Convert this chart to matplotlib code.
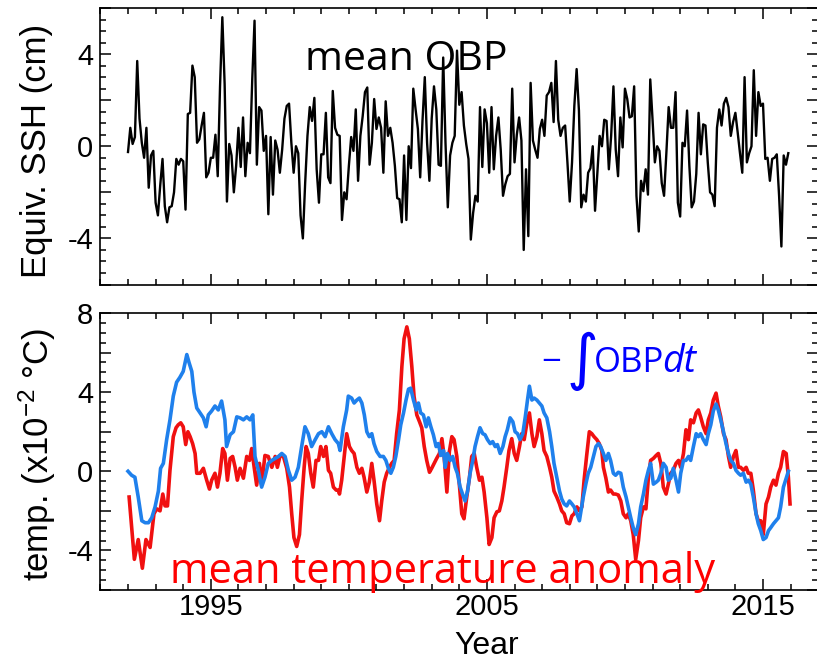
import numpy as np
import matplotlib
matplotlib.use("Agg")
import matplotlib.pyplot as plt
from matplotlib.ticker import MultipleLocator, FixedLocator, FuncFormatter

plt.rcParams['axes.unicode_minus'] = False
plt.rcParams['font.family'] = ['Liberation Sans', 'DejaVu Sans']
plt.rcParams['mathtext.fontset'] = 'custom'
plt.rcParams['mathtext.rm'] = 'Liberation Sans'
plt.rcParams['mathtext.it'] = 'Liberation Sans:italic'
plt.rcParams['mathtext.default'] = 'regular'

# ---------------- data ----------------
start_year = 1992.0
# monthly mean OBP (equivalent SSH, cm), Jan 1992 onward
obp = [
    -0.25, 0.8, 0.1, 0.4, 3.7, 1.2, 0.15, -0.5, 0.8, -1.8,
    -0.4, -0.2, -2.45, -3.0, -1.7, -0.55, -2.6, -3.3, -2.65, -2.6,
    -2.0, -0.55, -0.8, -0.55, -0.65, -2.75, 1.4, 1.45, 3.5, 3.0,
    0.15, 0.3, 0.9, 1.45, -1.35, -1.15, -0.5, -0.5, 0.5, -1.3,
    2.6, 5.6, 2.7, -2.4, 0.1, -0.4, -2.0, -0.85, 0.8, -0.9,
    1.25, -1.3, 0.15, -0.3, 2.9, 5.45, -0.8, 1.7, 1.55, -0.2,
    0.45, -2.95, 0.4, -2.1, 0.25, -0.15, -1.15, -0.15, 1.2, 1.75,
    1.85, 0.15, -1.15, 0.0,
    -0.3, -3.0, -4.0,
    -1.6, 0.45, 1.7, 1.1, 2.1, -1.0, -2.45, -0.35, -0.35, 1.45,
    -1.35, -1.6, 2.4, 0.8, 0.5, 0.45, -3.2, -2.0, -2.3, -0.85,
    0.4, -0.2, 1.6, -1.5, 0.45, 1.3, 2.35, 2.55, -0.8, 0.15,
    2.05, 0.75, 1.25, 0.8, -1.15, 1.95, 0.45, 0.8, 0.15, -0.85,
    -2.25, -2.3, -3.3, -0.4, -3.2, 0.0, -0.95, 2.5, 1.6, 0.75,
    -1.35, 1.1, 3.0, 0.15, -1.5, 1.2, 2.6, 1.6, -0.8, -0.85,
    3.85, 0.15, -2.65, -0.4, 0.15, 0.45, 4.15, 1.8, 2.35, 0.9,
    0.1, -0.55, -4.05, -2.9,
    -2.15, -2.4, 1.7, -0.9, 1.6, 1.0, -1.15, 1.7, -1.0, 0.45,
    1.25, -0.15, -2.15, -1.65, -1.3, -1.2, 2.5, -0.7, 0.5, 1.25,
    0.25, -4.5, -1.0, -3.9, 2.75, 0.25, -0.15, -0.5, 0.75, 1.15,
    0.45, 2.2, 2.35, 2.75, 1.05, 3.7, 1.15, 0.45, 0.8, 0.9,
    -0.7, -2.4, -0.7, 1.75, 3.35, 1.55, -2.65, -2.1, -2.4, -1.15,
    -0.95, 0.0, -2.8, -1.15, 0.45, 0.0, 1.15, 1.1, -1.0, 0.45,
    2.6, -0.15, -1.3, 1.25, -0.05, 2.5, 2.05, 1.25, 1.3, 2.6,
    -2.15, -3.7,
    -1.5, -1.95, -1.0, -2.1, 2.9, 1.15, -0.7, 0.0, -0.2, -1.6,
    -2.15, -0.3, 1.7, 0.8, 0.8, 2.35, -2.45, -3.05, 0.15, 0.0,
    1.55, -0.85, -2.65, -2.4, -1.2, 1.45, -0.35, 0.95, 0.9, -0.7,
    -2.0, -2.1, -2.6, 0.8, 1.6, 0.9, 1.85, 2.1, 1.7, 0.45,
    1.05, 1.45, 0.6, -0.3, -1.15, 3.0, -0.7, -0.3, 0.0, 3.3,
    0.45, 2.35, 1.75, 1.85, -0.55, -0.5, -1.5, -0.55, -0.5, -0.35,
    -2.15, -4.35, -0.4, -0.8, -0.3,
]

# mean temperature anomaly (x1e-2 degC)
temp_t = [
    1992.04, 1992.23, 1992.37, 1992.52, 1992.65, 1992.80, 1992.94, 1993.04, 1993.16, 1993.26,
    1993.34, 1993.43, 1993.52, 1993.64, 1993.74, 1993.82, 1993.91, 1994.00, 1994.09, 1994.17,
    1994.25, 1994.34, 1994.43, 1994.49, 1994.61, 1994.73, 1994.85, 1994.95, 1995.03, 1995.15,
    1995.24, 1995.33, 1995.43, 1995.51, 1995.60, 1995.70, 1995.79, 1995.88, 1995.96, 1996.06,
    1996.18, 1996.30, 1996.40, 1996.48, 1996.57, 1996.66, 1996.76, 1996.84, 1996.96, 1997.08,
    1997.21, 1997.33, 1997.41, 1997.51, 1997.63, 1997.75, 1997.85, 1997.93, 1998.01, 1998.11,
    1998.21, 1998.29, 1998.38, 1998.45, 1998.53, 1998.62, 1998.71, 1998.81, 1998.90, 1998.98,
    1999.08, 1999.17, 1999.26, 1999.34, 1999.44, 1999.54, 1999.62,
    1999.66, 1999.74, 1999.83, 1999.92, 2000.02, 2000.10, 2000.19, 2000.29, 2000.38, 2000.47,
    2000.55, 2000.65, 2000.74, 2000.83, 2000.91, 2001.01, 2001.11, 2001.19, 2001.28, 2001.37,
    2001.47, 2001.55, 2001.64, 2001.73, 2001.83, 2001.92, 2002.00, 2002.10, 2002.19, 2002.28,
    2002.36, 2002.46, 2002.56, 2002.64, 2002.73, 2002.82, 2002.92, 2003.00, 2003.09, 2003.18,
    2003.28, 2003.37, 2003.45, 2003.55, 2003.64, 2003.73, 2003.81, 2003.91, 2004.01, 2004.09,
    2004.17, 2004.27, 2004.37, 2004.45, 2004.54, 2004.63, 2004.73, 2004.82, 2004.90, 2005.00,
    2005.08, 2005.18, 2005.26, 2005.36, 2005.45, 2005.54, 2005.62, 2005.72, 2005.80, 2005.90,
    2005.99, 2006.08, 2006.18, 2006.26, 2006.35, 2006.45, 2006.54, 2006.63, 2006.71, 2006.81,
    2006.90, 2006.99, 2007.07, 2007.17, 2007.27, 2007.35, 2007.43, 2007.53, 2007.63, 2007.71,
    2007.80, 2007.89, 2007.99, 2008.08, 2008.16, 2008.26, 2008.35,
    2008.44, 2008.52, 2008.61, 2008.71, 2008.80, 2008.88, 2008.98, 2009.07, 2009.16, 2009.22,
    2009.31, 2009.40, 2009.48, 2009.58, 2009.66, 2009.76, 2009.85, 2009.94, 2010.04, 2010.12,
    2010.21, 2010.30, 2010.39, 2010.49, 2010.57, 2010.67, 2010.76, 2010.85, 2010.93, 2011.03,
    2011.13, 2011.21, 2011.30, 2011.39, 2011.49, 2011.57, 2011.66, 2011.75, 2011.85, 2011.94,
    2012.02, 2012.12, 2012.21, 2012.30, 2012.38, 2012.48, 2012.58, 2012.66, 2012.74, 2012.84,
    2012.94, 2013.02, 2013.11, 2013.20, 2013.30, 2013.38, 2013.47, 2013.57, 2013.66, 2013.75,
    2013.83, 2013.93, 2014.02, 2014.11, 2014.19, 2014.29, 2014.39, 2014.47, 2014.56, 2014.65,
    2014.75, 2014.83, 2014.92, 2015.01, 2015.11, 2015.20, 2015.28, 2015.38, 2015.47, 2015.56,
    2015.64, 2015.74, 2015.84, 2015.92, 2015.98,
]
temp_v = [
    -1.3, -4.45, -3.45, -4.9, -3.45, -3.85, -2.15, -1.9, -2.0, -1.15,
    -1.75, -1.75, 0.05, 1.75, 2.2, 2.35, 2.45, 2.25, 1.35, 2.0,
    1.75, 1.4, 0.9, -0.1, -0.1, 0.15, -0.45, -0.9, -0.45, -0.1,
    -0.8, -0.1, 1.15, 0.9, -0.45, 0.65, 0.75, 0.2, -0.45, 0.15,
    -0.35, 0.75, 0.55, 1.15, 0.2, -0.7, 0.4, -0.65, 0.8, 0.75,
    0.2, 0.75, 0.2, 0.8, 0.75, 0.15, -0.8, -2.15, -3.35, -3.8,
    -3.2, -1.5, 0.2, 1.25, 0.9, -0.1, -0.8, 0.55, 0.55, 1.25,
    0.75, 1.25, 0.05, -0.1, -0.8, -0.95, -0.95,
    -1.15, -0.45, 0.75, 1.9, 1.25, 1.05, 0.9, 0.2, -0.1, 0.15,
    -0.3, -1.05, -0.55, 0.4, -0.45, -1.65, -2.5, -1.5, -0.55, -0.1,
    0.2, 0.4, 0.55, 1.9, 3.1, 5.3, 6.7, 7.3, 6.7, 5.3,
    3.8, 2.85, 2.5, 2.2, 1.25, 0.55, -0.05, 0.15, 0.4, 0.65,
    0.9, 1.65, 0.75, -1.05, 1.0, 1.75, 1.6, 0.75, -0.8, -2.15,
    -2.4, -1.3, -0.3, 0.75, 0.9, 0.2, -0.45, -0.3, -1.05, -2.35,
    -3.7, -3.35, -2.35, -2.05, -2.0, -1.5, -0.8, 0.2, 1.05, 1.65,
    0.9, 0.55, 1.25, 1.9, 1.6, 2.45, 2.95, 1.9, 1.25, 1.75,
    2.6, 1.9, 1.05, 0.75, 0.2, -0.3, -1.0, -1.3, -1.65, -2.0,
    -2.15, -2.6, -2.65, -2.25, -2.15, -1.8, -2.0,
    -1.8, -0.45, 0.75, 2.0, 1.9, 1.75, 1.6, 1.4, 1.05, 0.2,
    -0.35, -1.05, -0.95, -1.15, -1.15, -1.2, -1.5, -2.15, -2.35, -2.15,
    -2.5, -3.2, -4.45, -3.5, -2.35, -1.8, -1.9, -0.3, 0.55, 0.65,
    0.8, 0.9, 0.4, -0.8, -1.15, -0.65, -0.1, 0.05, 0.4, 0.55,
    0.2, 0.9, 2.1, 1.6, 2.6, 2.45, 2.95, 3.1, 2.75, 2.25,
    1.9, 2.6, 2.95, 3.6, 3.95, 3.3, 2.75, 1.9, 1.6, 0.75,
    0.2, 0.75, 1.05, 0.2, 0.2, 0.05, 0.2, -0.1, -0.1, -0.95,
    -2.15, -2.5, -2.5, -3.2, -1.65, -1.3, -0.8, -0.45, -0.7, -0.1,
    0.2, 1.0, 0.9, -0.3, -1.65,
]

# -integral of OBP dt (x1e-2 degC equivalent)
integ_t = [
    1992.00, 1992.13, 1992.25, 1992.37, 1992.50, 1992.62, 1992.74, 1992.86, 1992.98, 1993.10,
    1993.18, 1993.28, 1993.40, 1993.52, 1993.64, 1993.76, 1993.88, 1994.00, 1994.13, 1994.21,
    1994.31, 1994.39, 1994.49, 1994.61, 1994.73, 1994.83, 1994.91, 1995.03, 1995.15, 1995.27,
    1995.39, 1995.51, 1995.57, 1995.70, 1995.82, 1995.94, 1996.06, 1996.18, 1996.30, 1996.42,
    1996.52, 1996.60, 1996.72, 1996.84, 1996.96, 1997.08, 1997.21, 1997.33, 1997.45, 1997.57,
    1997.69, 1997.81, 1997.93, 1998.05, 1998.17, 1998.29, 1998.41, 1998.53, 1998.65, 1998.78,
    1998.90, 1999.02, 1999.14, 1999.26, 1999.38, 1999.50, 1999.62,
    1999.68, 1999.80, 1999.92, 1999.98, 2000.10, 2000.19, 2000.29, 2000.38, 2000.47, 2000.56,
    2000.65, 2000.74, 2000.83, 2000.91, 2001.01, 2001.13, 2001.25, 2001.34, 2001.43, 2001.52,
    2001.61, 2001.70, 2001.80, 2001.88, 2001.98, 2002.07, 2002.16, 2002.24, 2002.34, 2002.44,
    2002.52, 2002.60, 2002.70, 2002.80, 2002.88, 2002.97, 2003.06, 2003.16, 2003.24, 2003.33,
    2003.43, 2003.49, 2003.57, 2003.67, 2003.76, 2003.85, 2003.93, 2004.03, 2004.13, 2004.21,
    2004.30, 2004.39, 2004.49, 2004.57, 2004.66, 2004.75, 2004.85, 2004.93, 2005.02, 2005.12,
    2005.21, 2005.30, 2005.38, 2005.48, 2005.58, 2005.66, 2005.74, 2005.84, 2005.94, 2006.02,
    2006.11, 2006.20, 2006.30, 2006.39, 2006.47, 2006.54, 2006.63, 2006.71, 2006.81, 2006.90,
    2006.99, 2007.07, 2007.17, 2007.27, 2007.35, 2007.43, 2007.53, 2007.63, 2007.71, 2007.80,
    2007.89, 2007.99, 2008.08, 2008.16, 2008.26, 2008.35,
    2008.49, 2008.59, 2008.67, 2008.76, 2008.86, 2008.95, 2009.04, 2009.12, 2009.22, 2009.31,
    2009.40, 2009.48, 2009.58, 2009.66, 2009.76, 2009.85, 2009.94, 2010.04, 2010.12, 2010.21,
    2010.30, 2010.39, 2010.49, 2010.57, 2010.67, 2010.76, 2010.85, 2010.93, 2011.03, 2011.13,
    2011.21, 2011.30, 2011.39, 2011.49, 2011.57, 2011.66, 2011.75, 2011.85, 2011.94, 2012.02,
    2012.12, 2012.21, 2012.30, 2012.38, 2012.48, 2012.58, 2012.66, 2012.74, 2012.84, 2012.94,
    2013.02, 2013.11, 2013.20, 2013.30, 2013.38, 2013.47, 2013.57, 2013.66, 2013.75, 2013.83,
    2013.93, 2014.02, 2014.11, 2014.19, 2014.29, 2014.39, 2014.47, 2014.56, 2014.65, 2014.75,
    2014.83, 2014.92, 2015.01, 2015.11, 2015.20, 2015.28, 2015.38, 2015.47, 2015.56, 2015.64,
    2015.74, 2015.84, 2015.92,
]
integ_v = [
    0.0, -0.2, -0.3, -1.3, -2.5, -2.6, -2.6, -2.35, -1.8, -1.0,
    0.15, 0.4, 1.6, 2.6, 3.8, 4.5, 4.75, 5.05, 5.9, 5.5,
    5.05, 4.0, 3.2, 2.95, 2.7, 2.25, 2.85, 3.05, 3.3, 3.1,
    3.55, 2.6, 1.25, 1.85, 2.0, 2.75, 2.7, 2.6, 2.75, 2.6,
    2.85, 0.75, 0.05, -0.8, -0.3, 0.4, 0.55, 0.65, 0.75, 0.9,
    0.75, 0.05, -0.45, -0.3, 0.2, 1.25, 2.25, 1.9, 1.25, 1.6,
    1.9, 2.0, 1.75, 2.25, 1.9, 1.6, 1.4,
    1.05, 2.25, 3.1, 3.8, 3.7, 3.45, 3.6, 3.7, 3.45, 2.85,
    2.0, 1.75, 1.9, 1.4, 1.0, 0.75, 0.75, 0.55, 0.15, -0.1,
    0.2, 0.75, 1.6, 2.35, 2.95, 3.6, 4.15, 4.2, 3.6, 3.1,
    3.45, 2.95, 2.85, 2.25, 2.7, 2.25, 1.85, 1.25, 1.4, 0.8,
    1.05, 0.2, 0.9, 0.55, 0.75, 0.2, -0.1, -0.8, -1.2, -1.5,
    -1.0, -0.1, 0.55, 1.25, 1.75, 2.2, 1.9, 1.85, 1.6, 1.4,
    1.5, 1.25, 1.35, 0.9, 1.25, 1.75, 2.1, 2.7, 2.5, 2.0,
    1.9, 1.6, 1.9, 2.75, 3.6, 4.3, 3.6, 3.7, 3.6, 3.45,
    3.3, 2.95, 2.7, 2.0, 1.25, 0.4, -0.3, -1.0, -1.4, -1.65,
    -1.75, -1.5, -1.65, -1.8, -2.15, -2.5,
    -1.3, -0.6, -0.1, 0.2, 0.75, 1.25, 1.4, 1.25, 0.9, 0.55,
    0.9, 0.55, -0.1, -0.2, -0.05, -0.1, -0.8, -1.3, -1.8, -2.35,
    -2.85, -3.2, -2.65, -1.8, -1.15, -0.45, 0.05, 0.4, -0.65, -0.55,
    -0.45, -0.1, 0.4, 0.2, -0.45, -0.35, 0.15, -0.45, -1.05, -0.1,
    0.55, 0.55, 0.75, 0.55, 1.25, 1.9, 1.75, 1.9, 1.6, 1.35,
    1.9, 2.35, 3.05, 3.4, 3.1, 2.6, 2.0, 1.4, 0.9, 0.55,
    0.4, 0.05, -0.1, -0.2, -0.1, -0.55, -0.45, -0.65, -1.3, -2.15,
    -2.65, -3.0, -3.45, -3.35, -3.0, -2.85, -2.65, -2.5, -2.35, -1.8,
    -0.8, -0.35, 0.0,
]

x_major = [1995, 2005, 2015]
x_labels = ['1995', '2005', '2015']

# ---------------- figure ----------------
W, H = 817, 666
fig = plt.figure(figsize=(W / 100, H / 100), dpi=100)

def box(l, t, r, b):
    return [l / W, 1 - b / H, (r - l) / W, (b - t) / H]

ax1 = fig.add_axes(box(100.4, 8, 818.2, 284.5))
ax2 = fig.add_axes(box(100.4, 313, 818.2, 590))

t_obp = start_year + np.arange(len(obp)) / 12.0
ax1.plot(t_obp, obp, color='black', lw=1.7, solid_joinstyle='round')

ax2.plot(temp_t, temp_v, color='#f01010', lw=2.6, solid_joinstyle='round')
ax2.plot(integ_t, integ_v, color='#1f80ec', lw=2.6, solid_joinstyle='round')

ax1.set_ylim(-6, 6)
ax2.set_ylim(-6, 8)

tick_font = 21

def ylab(v, pos):
    return '%d' % v if abs(v % 4) < 1e-6 else ''

for ax in (ax1, ax2):
    ax.set_xlim(1991, 2017)
    ax.xaxis.set_major_locator(FixedLocator(x_major))
    ax.xaxis.set_minor_locator(MultipleLocator(1))
    ax.yaxis.set_major_locator(MultipleLocator(2))
    ax.yaxis.set_minor_locator(MultipleLocator(0.5))
    ax.yaxis.set_major_formatter(FuncFormatter(ylab))
    ax.tick_params(which='both', direction='in', top=True, right=True, width=1.1,
                   labelsize=tick_font, colors='black')
    ax.tick_params(which='major', length=8)
    ax.tick_params(which='minor', length=4)
    ax.tick_params(axis='y', pad=5)
    ax.tick_params(axis='x', pad=2)
    for s in ax.spines.values():
        s.set_linewidth(1.2)

ax1.set_xticklabels([])
ax2.set_xticklabels(x_labels)

fig.text(37 / W, 1 - 151 / H, 'Equiv. SSH (cm)', rotation=90, ha='center', va='center',
         fontsize=25)
fig.text(37 / W, 1 - 454 / H, 'temp. (x10$^{-2}$ °C)', rotation=90, ha='center', va='center',
         fontsize=25)
fig.text(487 / W, 1 - 646 / H, 'Year', ha='center', va='center', fontsize=23)

ann = ['Open Sans', 'DejaVu Sans']
fig.text(305 / W, 1 - 70 / H, 'mean OBP', ha='left', va='baseline', fontsize=29.5,
         family=ann, color='black')
fig.text(170 / W, 1 - 583 / H, 'mean temperature anomaly', ha='left', va='baseline',
         fontsize=30, family=ann, color='#ff0000')
fig.text(541 / W, 1 - 372 / H, '\u2212', ha='left', va='baseline', fontsize=25,
         family=ann, color='#0000ff')
fig.text(582 / W, 1 - 361 / H, '\u222b', ha='center', va='center', fontsize=44,
         family=['DejaVu Sans'], color='#0000ff')
fig.text(594 / W, 1 - 372 / H, 'OBP', ha='left', va='baseline', fontsize=25,
         family=ann, color='#0000ff')
fig.text(662 / W, 1 - 372 / H, 'dt', ha='left', va='baseline', fontsize=27,
         family=ann, color='#0000ff', style='italic')

fig.savefig('out.png', dpi=100)
